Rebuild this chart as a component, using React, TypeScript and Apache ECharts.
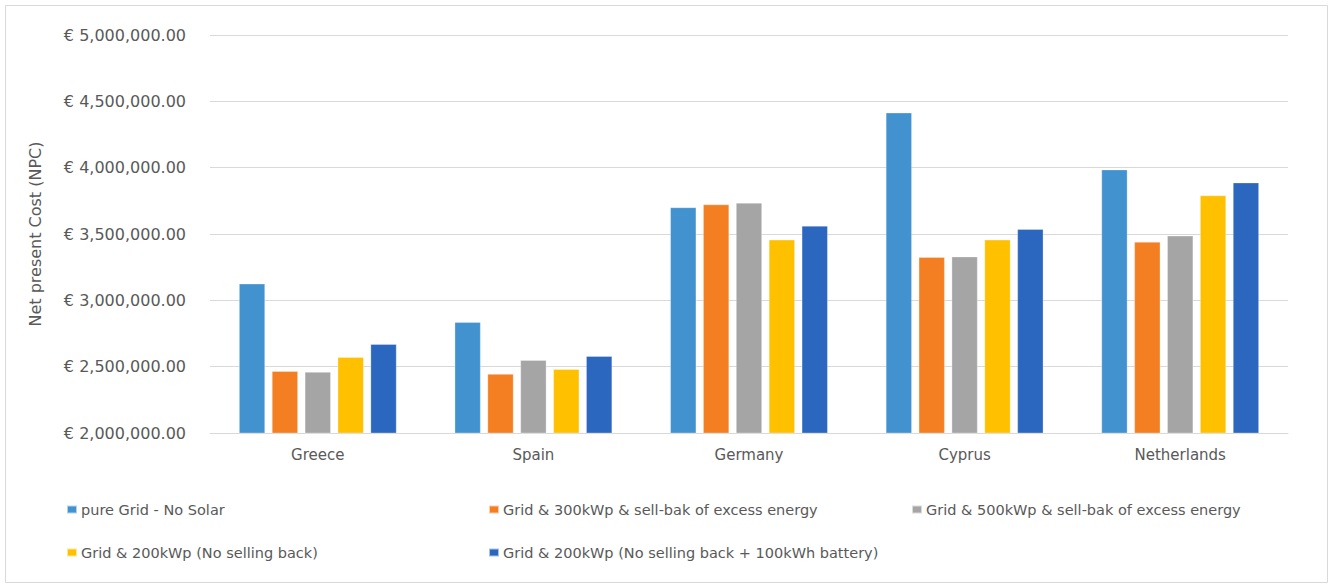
import React, { useEffect, useRef } from "react";
import * as echarts from "echarts";

const categories = ["Greece", "Spain", "Germany", "Cyprus", "Netherlands"];
const seriesNames = [
  "pure Grid - No Solar",
  "Grid & 300kWp & sell-bak of excess energy",
  "Grid & 500kWp & sell-bak of excess energy",
  "Grid & 200kWp (No selling back)",
  "Grid & 200kWp (No selling back + 100kWh battery)",
];
const pureGrid = [3125000, 2835000, 3700000, 4414000, 3985000];
const grid300 = [2466000, 2444000, 3722000, 3325000, 3440000];
const grid500 = [2459000, 2549000, 3734000, 3329000, 3486000];
const grid200 = [2571000, 2481000, 3456000, 3456000, 3790000];
const grid200Bat = [2669000, 2579000, 3561000, 3536000, 3887000];
const seriesValues = [pureGrid, grid300, grid500, grid200, grid200Bat];
const colors = ["#4292d0", "#f47f22", "#a5a5a5", "#ffc000", "#2b67be"];

const legendPos = [
  { left: 61, top: 497 },
  { left: 483, top: 497 },
  { left: 906, top: 497 },
  { left: 61, top: 540 },
  { left: 483, top: 540 },
];

export default function App() {
  const ref = useRef<HTMLDivElement>(null);
  useEffect(() => {
    if (!ref.current) return;
    const chart = echarts.init(ref.current, undefined, { renderer: "svg" });
    const font = "'DejaVu Sans', sans-serif";
    chart.setOption({
      animation: false,
      backgroundColor: "#ffffff",
      textStyle: { fontFamily: font },
      graphic: [
        {
          type: "rect",
          shape: { x: 5.5, y: 5.5, width: 1322, height: 577 },
          style: { fill: "none", stroke: "#d9d9d9", lineWidth: 1 },
          silent: true,
        },
      ],
      legend: seriesNames.map((n, i) => ({
        data: [n],
        left: legendPos[i].left,
        top: legendPos[i].top,
        itemWidth: 10,
        itemHeight: 8,
        itemGap: 0,
        icon: "rect",
        textStyle: { fontSize: 14.5, color: "#595959", fontFamily: font, padding: [0, 0, 0, -1] },
        selectedMode: false,
      })),
      grid: { left: 210, right: 42, top: 35, bottom: 153 },
      xAxis: {
        type: "category",
        data: categories,
        axisTick: { show: false },
        axisLine: { lineStyle: { color: "#d9d9d9", width: 1 } },
        axisLabel: { fontSize: 15, color: "#595959", margin: 14 },
      },
      yAxis: {
        type: "value",
        min: 2000000,
        max: 5000000,
        interval: 500000,
        name: "Net present Cost (NPC)",
        nameLocation: "middle",
        nameGap: 167,
        nameTextStyle: { fontSize: 16, color: "#595959" },
        axisLabel: {
          fontSize: 16,
          color: "#595959",
          margin: 24,
          formatter: (v: number) =>
            "€ " + v.toLocaleString("en-US", { minimumFractionDigits: 2, maximumFractionDigits: 2 }),
        },
        splitLine: { lineStyle: { color: "#d9d9d9", width: 1 } },
        axisLine: { show: false },
        axisTick: { show: false },
      },
      series: seriesValues.map((vals, i) => ({
        name: seriesNames[i],
        type: "bar",
        data: vals,
        barGap: "27%",
        barCategoryGap: "27%",
        itemStyle: { color: colors[i], borderColor: "rgba(255,255,255,0.6)", borderWidth: 0.5 },
      })),
    });
    return () => chart.dispose();
  }, []);
  return (
    <div
      ref={ref}
      style={{ position: "absolute", left: 0, top: 0, width: 1330, height: 586 }}
    />
  );
}
